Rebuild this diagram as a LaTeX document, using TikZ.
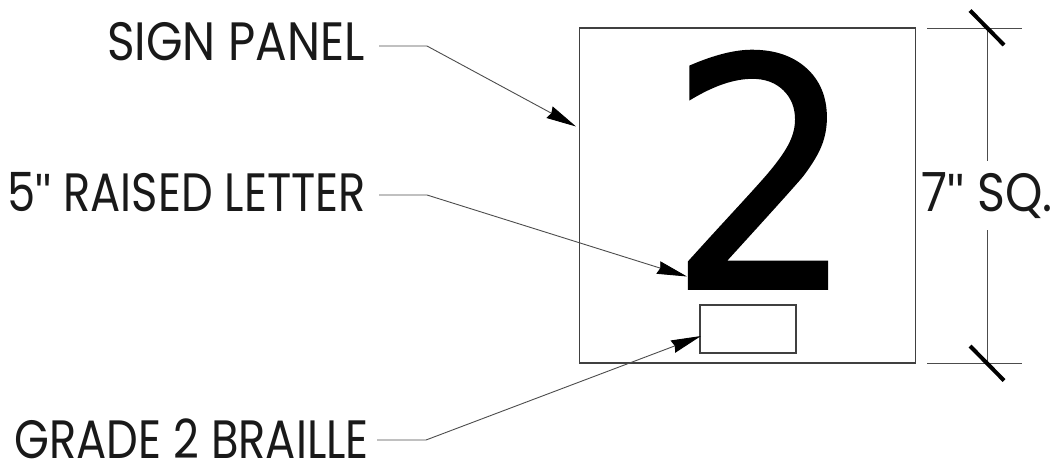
\documentclass[tikz,border=0pt]{standalone}
\usepackage{fontspec}
\setmainfont{Poppins}
\newfontfamily\digitfont[FakeBold=0.8]{DejaVu Sans}
\newfontfamily\quotefont{Liberation Sans}
\usetikzlibrary{arrows.meta,positioning}
\newcommand{\lbltext}[2][0.83]{\scalebox{#1}[1]{\fontsize{54}{54}\selectfont #2}}
\newcommand{\inchmark}{{\quotefont "}}
\tikzset{
  lbl/.style={inner sep=0pt,text=black!90},
  outline/.style={draw=black!75,line width=1.2pt,inner sep=0pt},
  thin line/.style={draw=black!70,line width=0.9pt},
  leader/.style={thin line,-{Stealth[inset=2pt,length=30pt,width=13pt,color=black]}},
  tick/.style={draw=black,line width=4pt},
}
\begin{document}
\begin{tikzpicture}[x=1pt,y=-1pt]
   \useasboundingbox (0,0) rectangle (1056,462);
   \node[outline,minimum width=336pt,minimum height=335pt] (panel) at (747.7,195.5) {};
   \node[outline,minimum width=96pt,minimum height=48pt] (braille) at (748,329) {};
   \node[inner sep=0pt,anchor=base] (digit) at (762,288.5) {\scalebox{0.93}[1]{\digitfont\fontsize{320}{320}\selectfont 2}};

   \node[lbl,anchor=base east] (signlbl) at (365,61) {\lbltext[0.87]{SIGN PANEL}};
   \node[lbl,anchor=base east] (letterlbl) at (366,212) {\lbltext{5\inchmark{} RAISED LETTER}};
   \node[lbl,anchor=base east] (braillelbl) at (369,458) {\lbltext{GRADE 2 BRAILLE}};
   \node[lbl,anchor=base] (dimlbl) at (987,212) {\lbltext[0.88]{7\inchmark{} SQ.}};

   \coordinate (signbend) at (427,46);
   \coordinate (letterbend) at (427,195);
   \coordinate (braillebend) at (426,440);
   \coordinate (signtip) at (576,126.5);
   \coordinate (lettertip) at (687,276.5);
   \coordinate (brailletip) at (701,336);

   \path[leader] (379,46) -- (signbend) -- (signtip);
   \path[leader] (379,195) -- (letterbend) -- (lettertip);
   \path[leader] (377,440) -- (braillebend) -- (brailletip);

   \coordinate (dimtop) at (987,28);
   \coordinate (dimbot) at (987,363);
   \draw[thin line] (927,28) -- (1022,28);
   \draw[thin line] (927,363) -- (1022,363);
   \draw[thin line] (dimtop) -- (987,161);
   \draw[thin line] (987,230) -- (dimbot);
   \draw[tick] (970,10.5) -- (1004,45);
   \draw[tick] (970,346) -- (1004,380.5);
\end{tikzpicture}
\end{document}
